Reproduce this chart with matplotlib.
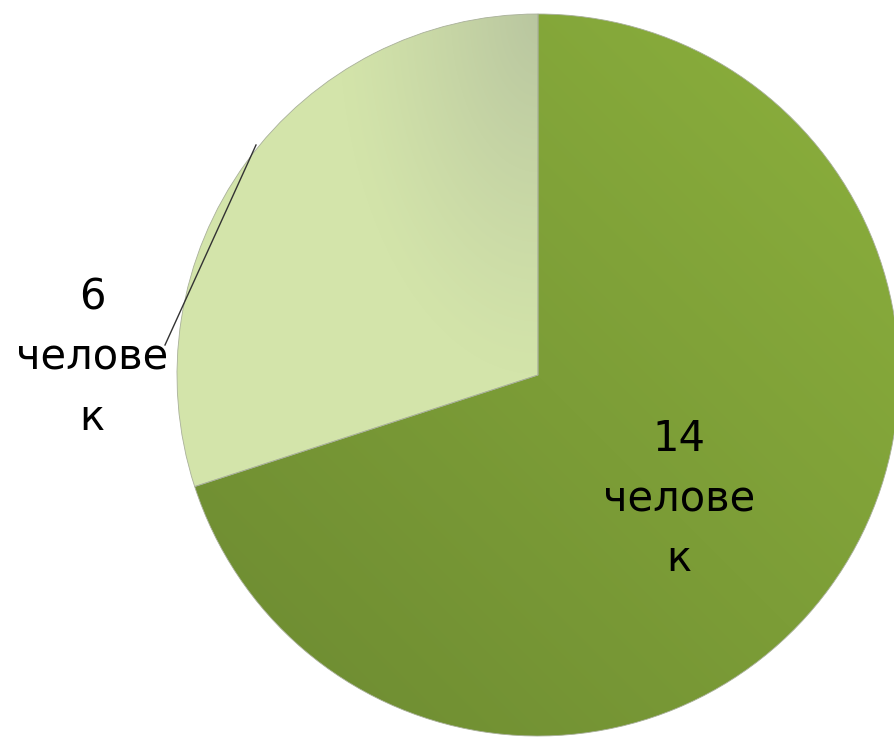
import numpy as np
import matplotlib
matplotlib.use("Agg")
from matplotlib import pyplot as plt
from matplotlib.colors import to_rgb

# data
counts = [14, 6]
labels = ["14\nчелове\nк", "6\nчелове\nк"]
base_colors = ["#86a93a", "#d3e4aa"]

W, H = 894, 738
cx, cy, R = 538, H - 375, 361

fig = plt.figure(figsize=(W / 100, H / 100), dpi=100)
ax = fig.add_axes([0, 0, 1, 1])

wedges, _ = ax.pie(counts, colors=base_colors, startangle=90, counterclock=False,
                   center=(cx, cy), radius=R,
                   wedgeprops=dict(edgecolor="#a9b09a", linewidth=0.6))
ax.set_xlim(0, W)
ax.set_ylim(0, H)
ax.set_aspect("equal")
ax.axis("off")

# gradient fills clipped to the wedges
yy, xx = np.mgrid[0:H, 0:W]
yy = H - yy  # image rows -> data y


def blend(c1, c2, t):
    c1 = np.array(to_rgb(c1))
    c2 = np.array(to_rgb(c2))
    return c1[None, None, :] * (1 - t[..., None]) + c2[None, None, :] * t[..., None]


# dark slice: darker lower-left, lighter upper-right
t = ((xx - cx) * 0.7 + (yy - cy) * 0.7) / (R * 1.2)
t = np.clip((t + 1) / 2, 0, 1)
img_dark = blend("#6e8c32", "#8aae3c", t)
im = ax.imshow(img_dark, extent=(0, W, 0, H), origin="upper", zorder=2)
im.set_clip_path(wedges[0])

# light slice: greyish near the top of the centre line
d = np.hypot((xx - cx) / 1.0, (yy - (cy + R)) / 1.8)
t2 = np.clip(1 - d / 200, 0, 1) ** 1.2
img_light = blend("#d3e4aa", "#b9c6a0", t2)
im2 = ax.imshow(img_light, extent=(0, W, 0, H), origin="upper", zorder=2)
im2.set_clip_path(wedges[1])

for w in wedges:
    w.set_zorder(3)
    w.set_facecolor("none")

# labels
ax.text(679, H - 499, labels[0], ha="center", va="center", fontsize=30,
        linespacing=1.55, family="DejaVu Sans", color="#000000", zorder=5)
ax.text(92, H - 358, labels[1], ha="center", va="center", fontsize=30,
        linespacing=1.55, family="DejaVu Sans", color="#000000", zorder=5)

# leader line for the small slice
ax.plot([165, 256], [H - 345, H - 145], color="#333333", lw=1, zorder=4)

plt.savefig("out.png", dpi=100)
